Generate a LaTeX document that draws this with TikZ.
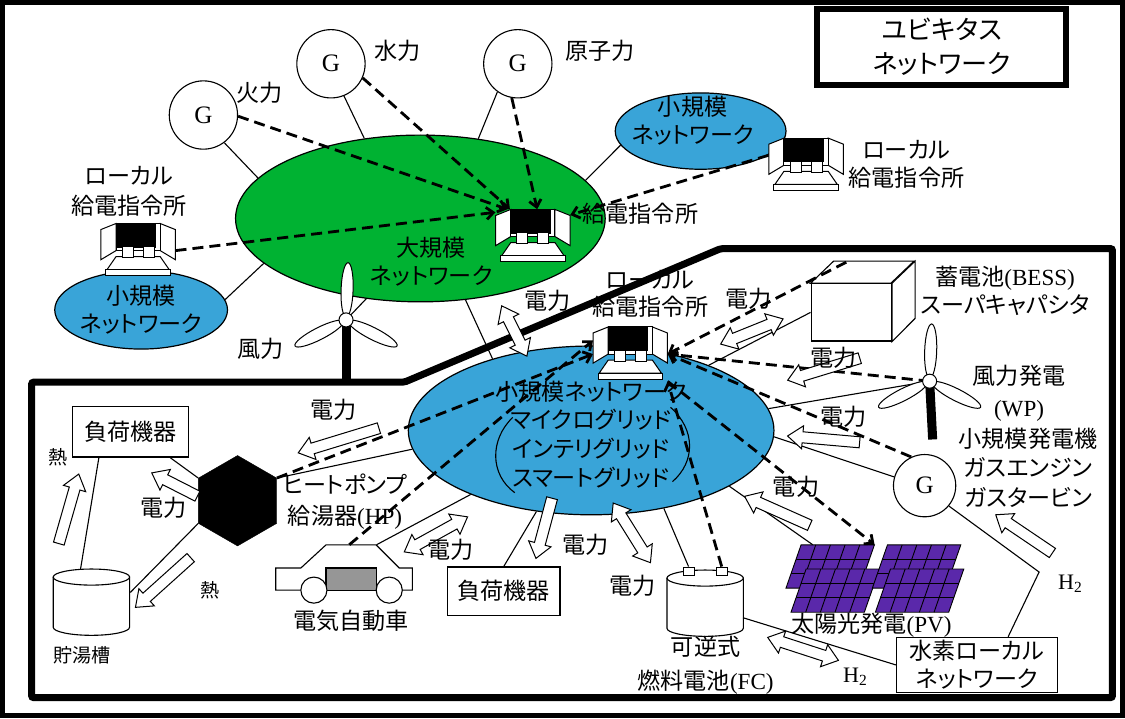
\documentclass[tikz,border=0pt]{standalone}
\usepackage{fontspec}
\setmainfont{Liberation Serif}
\newfontfamily\jp[RawFeature=+palt]{Noto Sans CJK JP}
\usepackage{tikz}
\usetikzlibrary{shapes.geometric, shapes.arrows, arrows.meta}

\definecolor{biggreen}{RGB}{0,178,50}
\definecolor{netblue}{RGB}{57,164,216}
\definecolor{pvpurple}{RGB}{90,40,170}
\definecolor{evgray}{RGB}{150,150,150}

\begin{document}
\begin{tikzpicture}[x=1pt, y=-1pt,
  jtext/.style={font=\jp\fontsize{23}{#1}\selectfont, align=center, inner sep=0pt},
  jtext/.default=28,
  bignet/.style={ellipse, draw, line width=1.2pt, fill=biggreen, inner sep=0pt},
  smallnet/.style={ellipse, draw, line width=1.2pt, fill=netblue, inner sep=0pt},
  gen/.style={circle, draw, line width=1.1pt, fill=white, minimum size=#1, inner sep=0pt, font=\fontsize{25}{25}\selectfont},
  gen/.default=68,
  spot/.style={inner sep=0pt},
  conbox/.style={inner sep=0pt, minimum width=74, minimum height=54},
  term/.style={draw, fill=white, line width=0.9pt, minimum width=11, minimum height=8, inner sep=0pt},
  boxed/.style={draw, line width=1.1pt, fill=white, font=\jp\fontsize{23}{28}\selectfont, align=center, inner sep=0pt},
  wire/.style={line width=1.1pt},
  ctrl/.style={line width=2.8pt, dash pattern=on 11pt off 6pt, -{Straight Barb[length=7pt, width=12pt]}},
  hollow/.style={single arrow, draw, fill=white, line width=1pt, inner xsep=0pt, inner ysep=5pt,
    single arrow head extend=6pt, single arrow tip angle=75, minimum height=#1},
  hollow2/.style={double arrow, draw, fill=white, line width=1pt, inner xsep=0pt, inner ysep=5pt,
    double arrow head extend=6pt, double arrow tip angle=75, minimum height=#1},
  console/.pic={
    \filldraw[fill=white, line width=1pt] (-22,6) -- (22,6) -- (31,19) -- (-31,19) -- cycle;
    \filldraw[fill=white, line width=1pt] (-32,19) rectangle (32,25);
    \filldraw[fill=white, line width=1pt] (-37,-21) -- (-22,-27) -- (-22,0) -- (-37,9) -- cycle;
    \filldraw[fill=white, line width=1pt] (37,-21) -- (22,-27) -- (22,0) -- (37,9) -- cycle;
    \filldraw[fill=white, line width=1pt] (-22,-27) rectangle (22,0);
    \fill (-22,-27) rectangle (18,-3);
    \filldraw[fill=white, line width=1pt] (-16,-4) rectangle (-5,7) (5,-4) rectangle (16,7);
  },
  turbine/.pic={
    \foreach \a in {88,207,333}
      \filldraw[fill=white, line width=1pt, rotate=\a] (30,0) ellipse [x radius=27, y radius=6];
    \filldraw[fill=white, line width=1pt] (0,0) circle [radius=7];
  },
  drum/.pic={
    \filldraw[fill=white, line width=1.1pt] (-38,-25) -- (-38,25) arc [start angle=180, end angle=0, x radius=38, y radius=8] -- (38,-25) -- cycle;
    \filldraw[fill=white, line width=1.1pt] (0,-25) ellipse [x radius=38, y radius=8];
  },
  pvpanel/.pic={
    \filldraw[fill=pvpurple, line width=0.9pt] (0,0) -- (73,0) -- (58,43) -- (-15,43) -- cycle;
    \foreach \i in {1,...,4} \draw[line width=0.9pt] (\i*14.6,0) -- (\i*14.6-15,43);
    \foreach \j in {1,2} \draw[line width=0.9pt] (-5*\j,14.33*\j) -- (73-5*\j,14.33*\j);
  }
]
% frames
\draw[line width=5pt] (5,5) rectangle (1120,715);
\draw[line width=7pt, rounded corners=2pt] (34,383) -- (405,383) -- (720,250) -- (1110,250) -- (1110,697) -- (34,697) -- cycle;

% networks
\node[bignet, minimum width=368, minimum height=166] (big) at (421,220) {};
\node[smallnet, minimum width=172, minimum height=78] (sn1) at (143,311) {};
\node[smallnet, minimum width=170, minimum height=76] (sn2) at (700,133) {};
\node[smallnet, minimum width=364, minimum height=168] (sn) at (591,431) {};

% generators and turbines
\node[gen] (g1) at (205,117) {G};
\node[gen] (g2) at (332,66) {G};
\node[gen] (g3) at (518,66) {G};
\node[gen=62] (gs) at (923,486) {G};
\coordinate (wt1) at (347,321);
\coordinate (wt1base) at (347,384);
\coordinate (wp) at (928,382);
\coordinate (wpbase) at (931,440);

% dispatch consoles
\node[conbox] (dc) at (533,238) {};
\node[conbox] (lc1) at (140,252) {};
\node[conbox] (rc) at (805,167) {};
\node[conbox] (lc) at (630,355) {};

% equipment
\node[regular polygon, regular polygon sides=6, shape border rotate=30, draw, fill=black, minimum size=90, inner sep=0pt] (hp) at (239,501) {};
\node[boxed, minimum width=115, minimum height=50] (load1) at (132.5,432.5) {負荷機器};
\node[boxed, minimum width=112, minimum height=48] (load2) at (504,591) {負荷機器};
\node[boxed, minimum width=160, minimum height=55] (h2net) at (975,664.5) {水素ローカル\\ネットワーク};

\node[draw, line width=1.1pt, fill=white, minimum width=80, minimum height=57, inner sep=0pt] (bess) at (850,313.5) {};
\draw[line width=1.1pt, fill=white] (bess.north west) -- ++(23,-22) -- ++(80,0) -- ++(-23,22) -- cycle;
\draw[line width=1.1pt, fill=white] (bess.north east) -- ++(23,-22) -- ++(0,57) -- (bess.south east) -- cycle;
\coordinate (bessb) at (845,263.5);

\node[spot, minimum width=176, minimum height=67] (pv) at (875,578.5) {};
\pic at (800,545) {pvpanel};
\pic at (805,569) {pvpanel};
\pic at (886,545) {pvpanel};
\pic at (889,569) {pvpanel};

\node[spot, minimum width=136, minimum height=45] (ev) at (345,567.5) {};
\draw[line width=1.1pt, fill=white] (277,568) -- (302,568) -- (327,545) -- (377,545) -- (400,568) -- (413,568) -- (413,590) -- (277,590) -- cycle;
\draw[line width=1.1pt, fill=evgray] (327,568) rectangle (377,590);
\draw[line width=1.1pt, fill=white] (315,590) circle [radius=13] (390,590) circle [radius=13];

\node[spot, minimum width=77, minimum height=66] (tank) at (93.5,602) {};
\pic at (tank) {drum};
\node[spot, minimum width=75, minimum height=66] (fc) at (704.5,603) {};
\pic at (fc) {drum};
\node[term] (fcp) at (688,571) {};
\node[term] (fcn) at (721,571) {};
\coordinate (h2bend) at (1037,572);

% power lines
\draw[wire] (g1.-53) -- (big.166);
\draw[wire] (g2.-68) -- (big.125);
\draw[wire] (g3.234) -- (big.54);
\draw[wire] (sn2.190) -- (big.13);
\draw[wire] (sn1.7) -- (big.196);
\draw[wire] (wt1) -- (big.236);
\draw[wire] (big.299) -- (sn.144);
\draw[wire] (hp.30) -- (sn.186);
\draw[wire] (ev.35) -- (sn.208);
\draw[wire] (load2.north) -- (sn.236);
\draw[wire] (fcp.north) -- (sn.313);
\draw[wire] (sn.338) -- (pv.152);
\draw[wire] (sn.-2) -- (gs.164);
\draw[wire] (sn.7) -- (wp);
\draw[wire] (sn.29) -- (bess.west);
\draw[wire] (hp.150) -- (load1.-33);
\draw[wire] (hp.210) -- (tank.14);
\draw[wire] (load1.219) -- (tank.108);
\draw[wire] (fc.-21) -- (h2net.west);
\draw[wire] (h2net.42) -- (h2bend) -- (gs.-40);

% control lines
\draw[ctrl] (g1.-2) -- (dc.133);
\draw[ctrl] (g2.-24) -- (dc.130);
\draw[ctrl] (g3.-100) -- (dc.81);
\draw[ctrl] (lc1.east) -- (dc.147);
\draw[ctrl] (rc.165) -- (dc.30);
\draw[ctrl] (bessb) -- (lc.east);
\draw[ctrl] (wp) -- (lc.east);
\draw[ctrl] (gs.115) -- (lc.east);
\draw[ctrl] (lc.south east) -- (pv.93);
\draw[ctrl] (fcn.north) -- (lc.south east);
\draw[ctrl] (hp.30) -- (lc.west);
\draw[ctrl] (ev.77) -- (lc.160);

% towers, rotors and consoles on top
\draw[line width=9pt] (wt1) -- (wt1base);
\draw[line width=9pt] (wp) -- (wpbase);
\pic at (wt1) {turbine};
\pic at (wp) {turbine};
\pic at (dc) {console};
\pic at (lc1) {console};
\pic at (rc) {console};
\pic at (lc) {console};

% flows
\node[hollow2=56, rotate=-63.4] (pwbig) at (514.5,332) {};
\node[hollow2=67, rotate=22] (pwbess) at (751,332.5) {};
\node[hollow=75, rotate=197] (pwwp) at (826,369) {};
\node[hollow=72, rotate=175] (pwgs) at (826,440) {};
\node[hollow=71, rotate=156] (pwpv) at (779.5,512.5) {};
\node[hollow=68, rotate=146] (h2gs) at (1025,536) {};
\node[hollow2=74, rotate=-18] (h2fc) at (802,648.5) {};
\node[hollow2=70, rotate=-58] (pwfc) at (631.5,533) {};
\node[hollow=62, rotate=255] (pwload) at (545,525) {};
\node[hollow2=72, rotate=29] (pwev) at (436.5,534.5) {};
\node[hollow=84, rotate=197] (pwhp) at (343,440) {};
\node[hollow=51, rotate=153] (pwload1) at (179.5,486.5) {};
\node[hollow=74, rotate=222] (heattank) at (167.5,580) {};
\node[hollow=72, rotate=74] (heatload) at (70,512.5) {};

% grid brackets
\draw[line width=1.1pt] (513,418) .. controls (490,440) and (490,475) .. (515,493);
\draw[line width=1.1pt] (670,408) .. controls (695,430) and (695,462) .. (672,482);

% labels
\node[jtext] (g1txt) at (261,95) {火力};
\node[jtext] (g2txt) at (398,53) {水力};
\node[jtext] (g3txt) at (600,53) {原子力};
\node[jtext] (bigtxt) at (432,263) {大規模\\ネットワーク};
\node[jtext] (sn1txt) at (143,311) {小規模\\ネットワーク};
\node[jtext] (sn2txt) at (692,123) {小規模\\ネットワーク};
\node[jtext=28.5] (sntxt) at (591,435) {小規模ネットワーク\\マイクログリッド\\インテリグリッド\\スマートグリッド};
\node[jtext] (dctxt) at (640,215) {給電指令所};
\node[jtext=30] (lc1txt) at (131,193) {ローカル\\給電指令所};
\node[jtext] (rctxt) at (905,166) {ローカル\\給電指令所};
\node[jtext=27] (lctxt) at (650,295) {ローカル\\給電指令所};
\node[jtext] (wt1txt) at (262,350) {風力};
\node[jtext] (besstxt) at (1003,292) {蓄電池{\rmfamily (BESS)}\\スーパキャパシタ};
\node[jtext=32] (wptxt) at (1017,394) {風力発電\\{\rmfamily (WP)}};
\node[jtext=29.5] (gstxt) at (1026,468) {小規模発電機\\ガスエンジン\\ガスタービン};
\node[jtext=31] (hptxt) at (346,502) {ヒートポンプ\\給湯器{\rmfamily (HP)}};
\node[jtext] (evtxt) at (352,621) {電気自動車};
\node[jtext, font=\jp\fontsize{19}{22}\selectfont] (tanktxt) at (84,655) {貯湯槽};
\node[jtext=34] (fctxt) at (705,665) {可逆式\\燃料電池{\rmfamily (FC)}};
\node[jtext] (pvtxt) at (870,625) {太陽光発電{\rmfamily (PV)}};

\node[jtext] (pwbiglbl) at (548,302) {電力};
\node[jtext] (pwbesslbl) at (748,300) {電力};
\node[jtext] (pwwplbl) at (832,359) {電力};
\node[jtext] (pwgslbl) at (842,417) {電力};
\node[jtext] (pwpvlbl) at (795,487) {電力};
\node[jtext] (pwfclbl) at (632,586) {電力};
\node[jtext] (pwloadlbl) at (585,545) {電力};
\node[jtext] (pwevlbl) at (451,550) {電力};
\node[jtext] (pwhplbl) at (335,410) {電力};
\node[jtext] (pwload1lbl) at (165,508) {電力};
\node[jtext, font=\jp\fontsize{19}{22}\selectfont] (heattanklbl) at (212,590) {熱};
\node[jtext, font=\jp\fontsize{19}{22}\selectfont] (heatloadlbl) at (60,458) {熱};
\node[font=\fontsize{22}{22}\selectfont, inner sep=0pt] (h2gslbl) at (1068,584) {H\textsubscript{2}};
\node[font=\fontsize{22}{22}\selectfont, inner sep=0pt] (h2fclbl) at (854,676) {H\textsubscript{2}};

\node[draw, line width=6pt, minimum width=248, minimum height=76, align=center, inner sep=0pt,
  font=\jp\fontsize{26}{33}\selectfont] (ubi) at (940,49) {ユビキタス\\ネットワーク};
\end{tikzpicture}
\end{document}
